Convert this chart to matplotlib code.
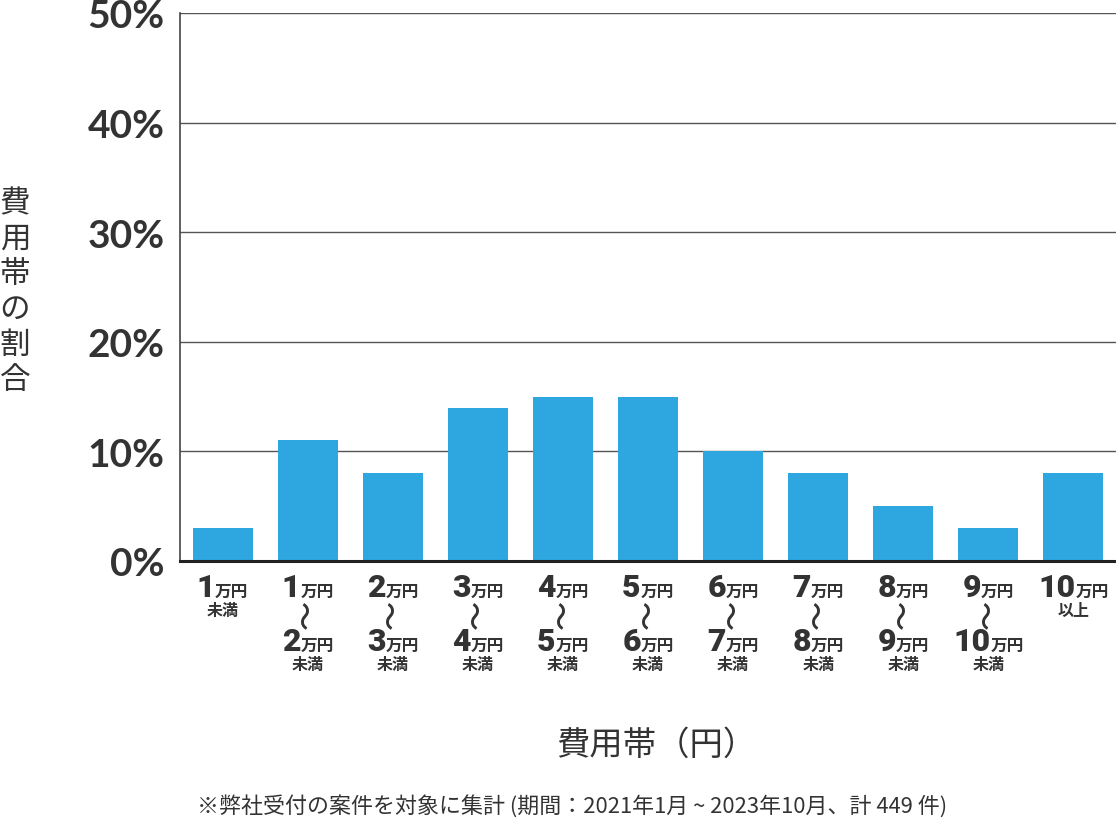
import matplotlib
matplotlib.use("Agg")
import matplotlib.pyplot as plt
from matplotlib.text import Text
from matplotlib.offsetbox import TextArea, HPacker, VPacker, AnnotationBbox, DrawingArea

plt.rcParams['font.family'] = ['Noto Sans CJK JP', 'DejaVu Sans']

# data
lower = [None, 1, 2, 3, 4, 5, 6, 7, 8, 9, 10]
upper = [1, 2, 3, 4, 5, 6, 7, 8, 9, 10, None]
shares = [3, 11, 8, 14, 15, 15, 10, 8, 5, 3, 8]
yticks = [0, 10, 20, 30, 40, 50]

bar_color = "#2ea6df"
text_color = "#333333"

fig = plt.figure(figsize=(11.16, 8.28), dpi=100)
ax = fig.add_axes([180 / 1116, 266 / 828, 936 / 1116, 548 / 828])

x = list(range(len(shares)))
ax.bar(x, shares, width=0.706, color=bar_color, zorder=3)

ax.set_xlim(-0.5, len(shares) - 0.5)
ax.set_ylim(0, 50)
ax.set_yticks(yticks)
ax.set_yticklabels([f"{t}%" for t in yticks], fontsize=28, fontweight="bold",
                   color=text_color, family=['Lato', 'Noto Sans CJK JP'])
ax.tick_params(axis="y", length=0, pad=11)
ax.set_xticks([])
ax.grid(axis="y", color="#555555", linewidth=1, zorder=0)
for s in ["top", "right"]:
    ax.spines[s].set_visible(False)
ax.spines["left"].set_color("#444444")
ax.spines["left"].set_linewidth(1.2)
ax.spines["bottom"].set_color("#222222")
ax.spines["bottom"].set_linewidth(2.2)
ax.spines["bottom"].set_zorder(4)

num_props = dict(fontsize=23, fontweight=900, color=text_color,
                 family=['Roboto', 'Noto Sans CJK JP'])
unit_props = dict(fontsize=12, fontweight="bold", color=text_color,
                  family=['Noto Sans CJK JP'])
tail_props = dict(fontsize=11.5, fontweight="bold", color=text_color,
                  family=['Noto Sans CJK JP'])


def amount(n):
    return HPacker(children=[TextArea(str(n), textprops=num_props),
                             TextArea("万円", textprops=unit_props)],
                   align="baseline", pad=0, sep=0)


def wave():
    da = DrawingArea(14, 17)
    da.add_artist(Text(7, 8.5, "〜", rotation=90, ha="center", va="center",
                       fontsize=21, fontweight="medium", color=text_color,
                       family="Noto Sans CJK JP"))
    return da


for i, (lo, hi) in enumerate(zip(lower, upper)):
    if lo is None:
        rows = [amount(hi), TextArea("未満", textprops=tail_props)]
    elif hi is None:
        rows = [amount(lo), TextArea("以上", textprops=tail_props)]
    else:
        rows = [amount(lo), wave(), amount(hi), TextArea("未満", textprops=tail_props)]
    box = VPacker(children=rows, align="center", pad=0, sep=0)
    ab = AnnotationBbox(box, (i, 0), xycoords=ax.get_xaxis_transform(),
                        xybox=(0, -8), boxcoords="offset points",
                        box_alignment=(0.5, 1), frameon=False, annotation_clip=False)
    ax.add_artist(ab)

fig.text(15 / 1116, 1 - 292 / 828, "\n".join("費用帯の割合"), fontsize=22,
         color=text_color, ha="center", va="center", linespacing=1.18)
fig.text(656 / 1116, 1 - 745 / 828, "費用帯（円）", fontsize=24,
         color=text_color, ha="center", va="center")
fig.text(572 / 1116, 1 - 806 / 828,
         "※弊社受付の案件を対象に集計 (期間：2021年1月 ~ 2023年10月、計 449 件)",
         fontsize=15.8, color=text_color, ha="center", va="center")

fig.savefig("out.png", dpi=100)
